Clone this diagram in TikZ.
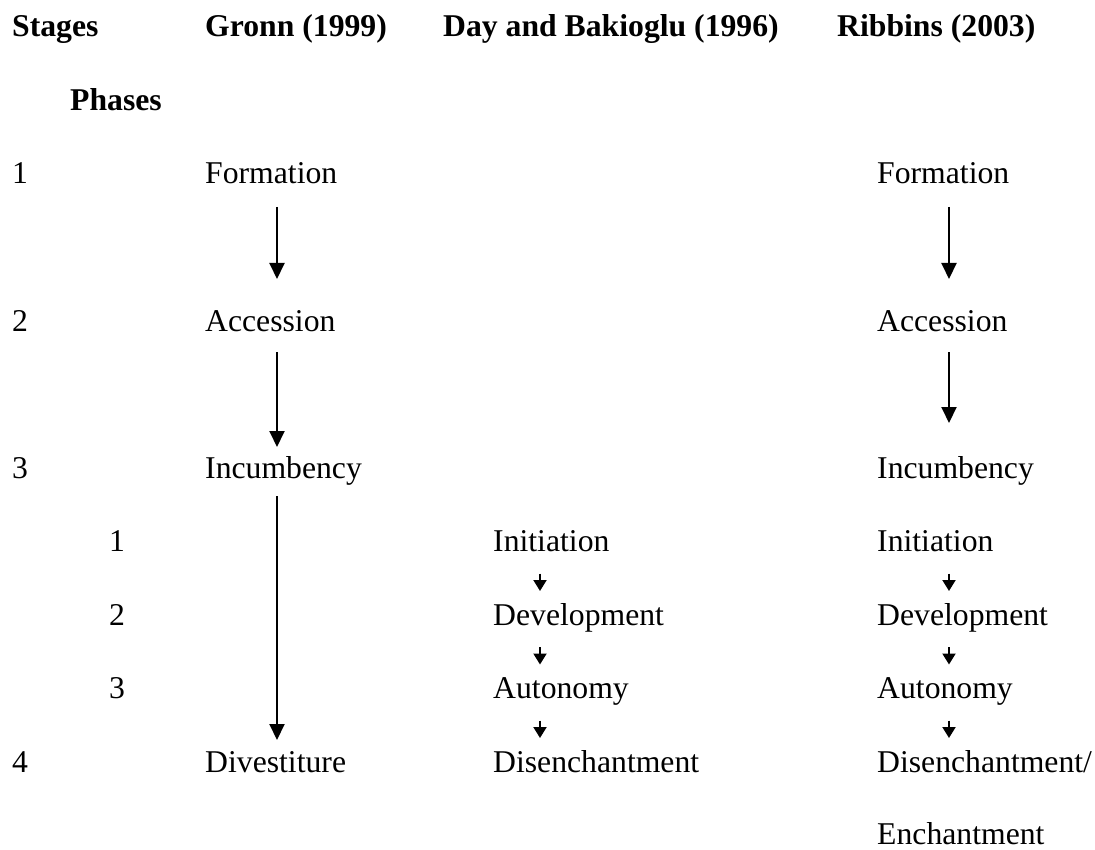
\documentclass[tikz,border=0pt]{standalone}
\usepackage{fontspec}
\setmainfont{Liberation Serif}
\usetikzlibrary{arrows.meta}
\begin{document}
\begin{tikzpicture}[x=1pt,y=-1pt,
  txt/.style={anchor=base west,inner sep=0pt,font=\fontsize{31.7}{38}\selectfont},
  hdr/.style={anchor=base west,inner sep=0pt,font=\fontsize{31.7}{38}\selectfont\bfseries},
  arr/.style={line width=2pt,-{Triangle[length=16pt,width=15pt]}},
  sarr/.style={line width=2pt,-{Triangle[length=11pt,width=13pt]}}]
\path[use as bounding box,fill=white] (0,0) rectangle (1095,850);
% headers
\node[hdr] (stages) at (12,37) {Stages};
\node[hdr] (gronn) at (205,37) {Gronn (1999)};
\node[hdr] (day) at (443,37) {Day and Bakioglu (1996)};
\node[hdr] (ribbins) at (837,37) {Ribbins (2003)};
\node[hdr] (phases) at (70,110.5) {Phases};
% stage numbers
\node[txt] (n1) at (12,184) {1};
\node[txt] (n2) at (12,331) {2};
\node[txt] (n3) at (12,478) {3};
\node[txt] (n4) at (12,772) {4};
% phase numbers
\node[txt] (p1) at (109,551.5) {1};
\node[txt] (p2) at (109,625) {2};
\node[txt] (p3) at (109,698.5) {3};
% Gronn
\node[txt] (gform) at (205,184) {Formation};
\node[txt] (gacc) at (205,331) {Accession};
\node[txt] (ginc) at (205,478) {Incumbency};
\node[txt] (gdiv) at (205,772) {Divestiture};
% Day and Bakioglu
\node[txt] (dinit) at (493,551.5) {Initiation};
\node[txt] (ddev) at (493,625) {Development};
\node[txt] (daut) at (493,698.5) {Autonomy};
\node[txt] (ddis) at (493,772) {Disenchantment};
% Ribbins
\node[txt] (rform) at (877,184) {Formation};
\node[txt] (racc) at (877,331) {Accession};
\node[txt] (rinc) at (877,478) {Incumbency};
\node[txt] (rinit) at (877,551.5) {Initiation};
\node[txt] (rdev) at (877,625) {Development};
\node[txt] (raut) at (877,698.5) {Autonomy};
\node[txt] (rdis) at (877,772) {Disenchantment/};
\node[txt,text depth=0pt] (rench) at (877,844.5) {Enchantment};
% arrow columns
\coordinate (gx) at (277,0);
\coordinate (dx) at (540,0);
\coordinate (rx) at (949,0);
% big arrows
\draw[arr,shorten <=23pt,shorten >=52pt] (gform.base -| gx) -- (gacc.base -| gx);
\draw[arr,shorten <=23pt,shorten >=52pt] (rform.base -| rx) -- (racc.base -| rx);
\draw[arr,shorten <=21pt,shorten >=31pt] (gacc.base -| gx) -- (ginc.base -| gx);
\draw[arr,shorten <=21pt,shorten >=55pt] (racc.base -| rx) -- (rinc.base -| rx);
\draw[arr,shorten <=18pt,shorten >=32pt] (ginc.base -| gx) -- (gdiv.base -| gx);
% small arrows
\draw[sarr,shorten <=22pt,shorten >=34pt] (dinit.base -| dx) -- (ddev.base -| dx);
\draw[sarr,shorten <=22pt,shorten >=34pt] (ddev.base -| dx) -- (daut.base -| dx);
\draw[sarr,shorten <=22pt,shorten >=34pt] (daut.base -| dx) -- (ddis.base -| dx);
\draw[sarr,shorten <=22pt,shorten >=34pt] (rinit.base -| rx) -- (rdev.base -| rx);
\draw[sarr,shorten <=22pt,shorten >=34pt] (rdev.base -| rx) -- (raut.base -| rx);
\draw[sarr,shorten <=22pt,shorten >=34pt] (raut.base -| rx) -- (rdis.base -| rx);
\end{tikzpicture}
\end{document}
